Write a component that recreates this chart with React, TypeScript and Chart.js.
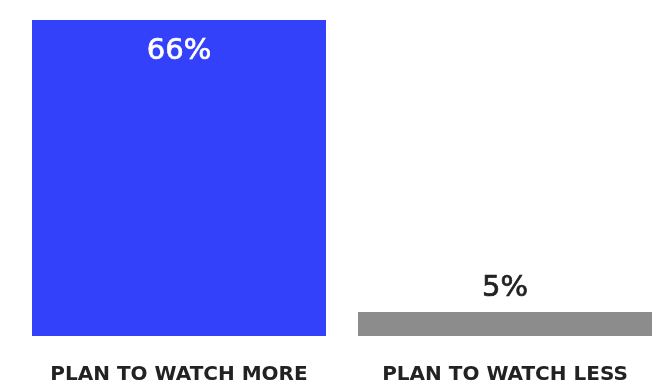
import React, { useEffect, useRef } from "react";
import { Chart, registerables } from "chart.js";

Chart.register(...registerables);

const categories = ["PLAN TO WATCH MORE", "PLAN TO WATCH LESS"];
const values = [66, 5];
const valueLabels = ["66%", "5%"];
const barColors = ["#3341FB", "#8C8C8C"];
const labelColors = ["#FFFFFF", "#222222"];
const labelInside = [true, false];

const FONT = "'DejaVu Sans', sans-serif";

const valueLabelPlugin = {
  id: "valueLabels",
  afterDatasetsDraw(chart: any) {
    const ctx = chart.ctx;
    const meta = chart.getDatasetMeta(0);
    ctx.save();
    ctx.font = `500 29px ${FONT}`;
    ctx.textAlign = "center";
    ctx.textBaseline = "middle";
    ctx.lineWidth = 0.7;
    meta.data.forEach((bar: any, i: number) => {
      ctx.fillStyle = labelColors[i];
      ctx.strokeStyle = labelColors[i];
      const y = labelInside[i] ? bar.y + 31 : bar.y - 24;
      ctx.fillText(valueLabels[i], bar.x, y);
      ctx.strokeText(valueLabels[i], bar.x, y);
    });
    ctx.restore();
  },
};

export default function App() {
  const ref = useRef<HTMLCanvasElement | null>(null);
  useEffect(() => {
    if (!ref.current) return;
    const chart = new Chart(ref.current, {
      type: "bar",
      data: {
        labels: categories,
        datasets: [
          {
            data: values,
            backgroundColor: barColors,
            borderWidth: 0,
            categoryPercentage: 1,
            barPercentage: 294 / 326,
          },
        ],
      },
      options: {
        responsive: false,
        animation: false,
        layout: { padding: { left: 16, right: 0, top: 20, bottom: 0 } },
        plugins: {
          legend: { display: false },
          tooltip: { enabled: false },
        },
        scales: {
          x: {
            grid: { display: false, drawTicks: false },
            border: { display: false },
            afterFit: (scale: any) => {
              scale.height = 53;
            },
            ticks: {
              color: "#222222",
              padding: 27,
              font: { family: FONT, size: 20, weight: "bold" },
              maxRotation: 0,
              autoSkip: false,
            },
          },
          y: {
            display: false,
            min: 0,
            max: 66,
            grid: { display: false },
          },
        },
      },
      plugins: [valueLabelPlugin],
    });
    return () => chart.destroy();
  }, []);
  return (
    <div
      style={{
        position: "fixed",
        left: 0,
        top: 0,
        width: 656,
        height: 389,
        overflow: "hidden",
        background: "#fff",
      }}
    >
      <canvas ref={ref} width={668} height={389} style={{ display: "block" }} />
    </div>
  );
}
